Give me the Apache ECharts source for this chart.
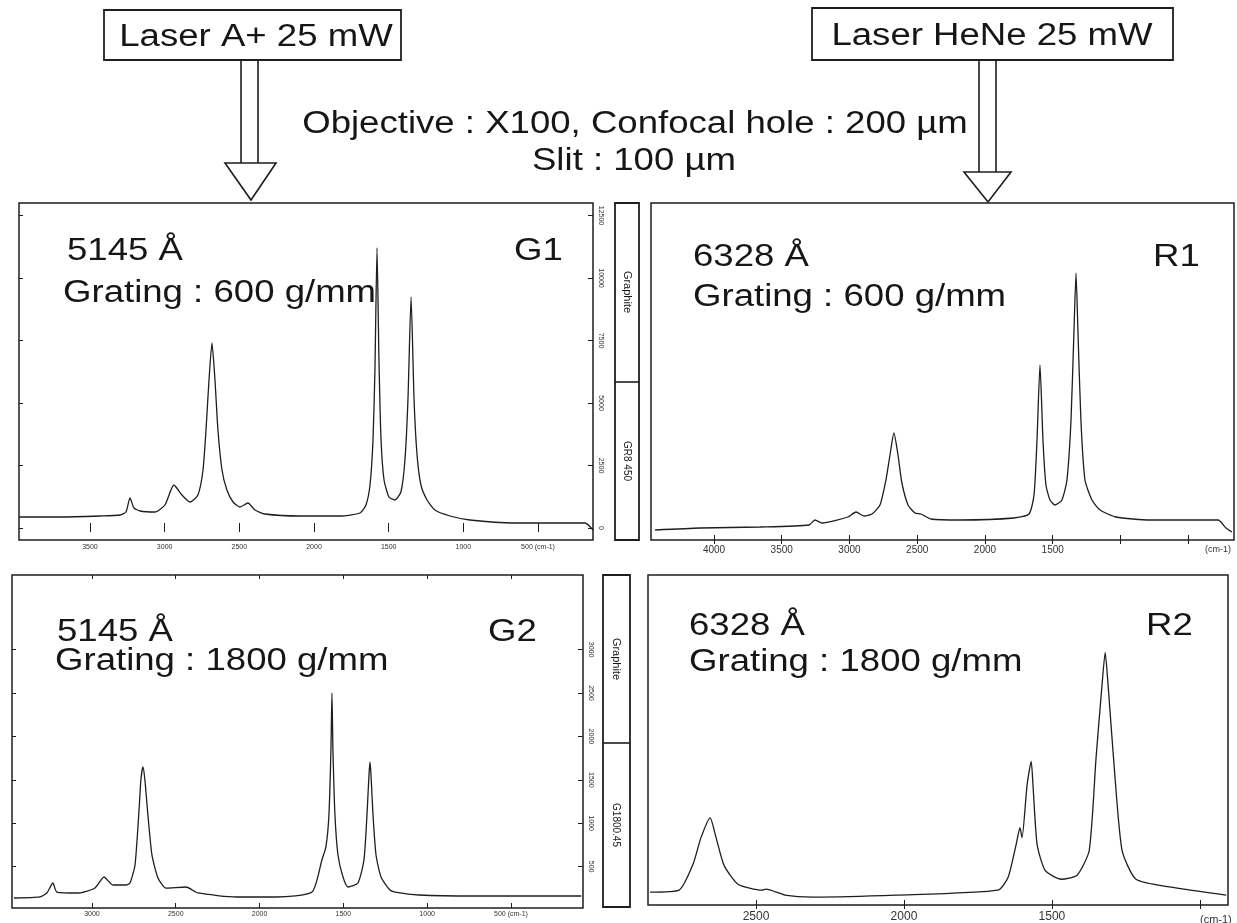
<!DOCTYPE html>
<html>
<head>
<meta charset="utf-8">
<title>Graphite Raman spectra</title>
<script src="https://cdn.jsdelivr.net/npm/echarts@6/dist/echarts.min.js"></script>
<style>
  html, body { margin: 0; padding: 0; background: #fff; }
  #chart { width: 1237px; height: 923px; }
</style>
</head>
<body>
<div id="chart"></div>
<script>
// spectra, [raman shift (cm-1), counts]
var specG1 = [[3975, 440], [3701, 440], [3433, 480], [3299, 520], [3259, 640], [3232, 1200], [3205, 800], [3165, 680],
  [3065, 640], [2998, 920], [2938, 1720], [2884, 1320], [2830, 1040], [2777, 1320], [2743, 2320], [2723, 3920],
  [2703, 5920], [2683, 7400], [2663, 5920], [2643, 3920], [2616, 2320], [2583, 1520], [2542, 1040], [2496, 840],
  [2442, 1000], [2395, 720], [2328, 560], [2094, 480], [1826, 480], [1692, 600], [1652, 920], [1625, 1720],
  [1605, 3520], [1592, 6320], [1578, 11200], [1565, 6720], [1551, 3520], [1531, 1920], [1498, 1240], [1458, 1120],
  [1418, 1440], [1391, 2720], [1371, 5120], [1350, 9240], [1330, 5120], [1310, 2920], [1284, 1720], [1243, 1120],
  [1190, 720], [1089, 480], [956, 320], [661, 200], [185, 200], [132, -80]];

var specR1 = [[4435, 400], [4103, 480], [3661, 520], [3299, 600], [3255, 800], [3203, 680], [3011, 920], [2952, 1120],
  [2893, 960], [2834, 1040], [2775, 1400], [2731, 2400], [2701, 3400], [2672, 4280], [2642, 3400], [2613, 2280],
  [2568, 1400], [2517, 1080], [2472, 1040], [2399, 840], [2185, 800], [1786, 880], [1675, 1040], [1638, 1800],
  [1616, 4000], [1594, 7000], [1572, 4000], [1550, 2200], [1520, 1600], [1483, 1400], [1432, 1600], [1395, 2400],
  [1365, 4800], [1343, 8400], [1328, 10680], [1314, 8400], [1292, 4800], [1262, 2400], [1210, 1600], [1151, 1200],
  [1033, 920], [782, 800], [280, 800], [221, 480], [177, 320]];

var specG2 = [[3465, 138], [3310, 150], [3269, 196], [3233, 311], [3209, 207], [3078, 196], [2982, 253], [2928, 380],
  [2875, 288], [2797, 288], [2773, 311], [2743, 518], [2719, 1152], [2708, 1498], [2696, 1647], [2684, 1498],
  [2666, 1094], [2642, 634], [2606, 369], [2558, 253], [2439, 265], [2367, 196], [2135, 150], [1896, 150],
  [1687, 207], [1628, 576], [1604, 726], [1586, 1094], [1574, 1843], [1568, 2500], [1562, 1843], [1550, 1094],
  [1532, 634], [1502, 380], [1472, 265], [1413, 311], [1377, 576], [1359, 1094], [1347, 1555], [1341, 1705],
  [1335, 1555], [1323, 1094], [1305, 634], [1275, 380], [1222, 230], [1192, 207], [1049, 173], [720, 161], [81, 161]];

var specR2 = [[2858, 130], [2760, 150], [2713, 410], [2686, 680], [2655, 880], [2635, 680], [2608, 400], [2561, 210],
  [2480, 150], [2466, 160], [2402, 100], [2307, 80], [2027, 100], [1682, 150], [1648, 280], [1621, 610],
  [1608, 780], [1601, 680], [1584, 1210], [1570, 1450], [1564, 1210], [1550, 610], [1523, 350], [1469, 260],
  [1415, 300], [1374, 550], [1351, 1480], [1331, 2210], [1320, 2550], [1310, 2210], [1290, 1410], [1263, 550],
  [1216, 260], [1097, 180], [911, 100]];

// tick labels
var ticksG1 = [3500, 3000, 2500, 2000, 1500, 1000, 500];
var ticksG2 = [3000, 2500, 2000, 1500, 1000, 500];
var ticksR1 = [4000, 3500, 3000, 2500, 2000, 1500, 1000, 500];
var labelsR1 = [4000, 3500, 3000, 2500, 2000, 1500];
var ticksR2 = [2500, 2000, 1500, 1000];
var labelsR2 = [2500, 2000, 1500];
var countsG1 = [0, 2500, 5000, 7500, 10000, 12500];
var countsG2 = [500, 1000, 1500, 2000, 2500, 3000];

var FONT = '"Liberation Sans", Arial, sans-serif';
var INK = '#1e1e1e';
var STRETCH = 1.18;   // the scan is a bit wider than it is tall

var panels = [
  { rect: [19, 203, 574, 337], x: [132, 3975], y: [-480, 13000], data: specG1, ticks: ticksG1, labels: ticksG1, fs: 7, margin: 4, counts: countsG1 },
  { rect: [651, 203, 583, 337], x: [162, 4465], y: [0, 13480], data: specR1, ticks: ticksR1, labels: labelsR1, fs: 10, margin: 5, counts: null },
  { rect: [12, 575, 571, 333], x: [70, 3477], y: [23, 3859], data: specG2, ticks: ticksG2, labels: ticksG2, fs: 7, margin: 3, counts: countsG2 },
  { rect: [648, 575, 580, 333], x: [905, 2865], y: [0, 3330], data: specR2, ticks: ticksR2, labels: labelsR2, fs: 12, margin: 6, counts: null }
];

var grids = [], xAxes = [], yAxes = [], series = [];
panels.forEach(function (p, i) {
  grids.push({
    left: p.rect[0], top: p.rect[1], width: p.rect[2], height: p.rect[3],
    show: true, borderColor: INK, borderWidth: 1.5
  });
  // bottom axis with labels
  xAxes.push({
    gridIndex: i, type: 'value', inverse: true, min: p.x[0], max: p.x[1], position: 'bottom',
    axisLine: { show: false },
    axisTick: { inside: true, length: 5, customValues: p.ticks, lineStyle: { color: INK } },
    axisLabel: {
      customValues: p.labels, fontSize: p.fs, color: '#333', margin: p.margin, fontFamily: FONT,
      formatter: function (v) { return (p.fs < 9 && v === 500) ? '500 (cm-1)' : String(v); }
    },
    splitLine: { show: false }
  });
  // top axis, ticks only
  xAxes.push({
    gridIndex: i, type: 'value', inverse: true, min: p.x[0], max: p.x[1], position: 'top',
    axisLine: { show: false },
    axisTick: { inside: true, length: 4, customValues: p.ticks, lineStyle: { color: INK } },
    axisLabel: { show: false }, splitLine: { show: false }
  });
  yAxes.push({
    gridIndex: i, type: 'value', min: p.y[0], max: p.y[1], position: 'right',
    axisLine: { show: false },
    axisTick: { show: !!p.counts, inside: true, length: 5, customValues: p.counts || [], lineStyle: { color: INK } },
    axisLabel: {
      show: !!p.counts, customValues: p.counts || [], rotate: -90, fontSize: 7, color: '#333', margin: 4, fontFamily: FONT,
      formatter: function (v) { return String(v); }
    },
    splitLine: { show: false }
  });
  yAxes.push({
    gridIndex: i, type: 'value', min: p.y[0], max: p.y[1], position: 'left',
    axisLine: { show: false },
    axisTick: { show: !!p.counts, inside: true, length: 4, customValues: p.counts || [], lineStyle: { color: INK } },
    axisLabel: { show: false }, splitLine: { show: false }
  });
  series.push({
    type: 'line', xAxisIndex: 2 * i, yAxisIndex: 2 * i, data: p.data,
    symbol: 'none', smooth: 0.2, clip: true,
    lineStyle: { color: INK, width: 1.3 }
  });
});

function txt(s, x, y, size, align, rot, stretch) {
  return {
    type: 'text', x: x, y: y, rotation: rot || 0, scaleX: stretch || 1, z: 10,
    style: { text: s, fontSize: size, fontFamily: FONT, fill: '#161616', textAlign: align, textVerticalAlign: 'middle' }
  };
}
function seg(x1, y1, x2, y2) {
  return { type: 'line', z: 5, shape: { x1: x1, y1: y1, x2: x2, y2: y2 }, style: { stroke: INK, lineWidth: 1.6 } };
}
function box(x, y, w, h) {
  return { type: 'rect', z: 4, shape: { x: x, y: y, width: w, height: h }, style: { fill: '#fff', stroke: INK, lineWidth: 1.8 } };
}
function tri(pts) {
  return { type: 'polygon', z: 6, shape: { points: pts }, style: { fill: '#fff', stroke: INK, lineWidth: 1.6 } };
}

var graphics = [
  // laser boxes and arrows
  box(104, 10, 297, 50), txt('Laser A+ 25 mW', 256, 37, 31, 'center', 0, STRETCH),
  seg(241, 60, 241, 164), seg(258, 60, 258, 164), tri([[225, 163], [276, 163], [251, 200]]),
  box(812, 8, 361, 52), txt('Laser HeNe 25 mW', 992, 36, 31, 'center', 0, STRETCH),
  seg(979, 60, 979, 173), seg(996, 60, 996, 173), tri([[964, 172], [1011, 172], [988, 202]]),
  txt('Objective : X100, Confocal hole : 200 µm', 635, 124, 31, 'center', 0, STRETCH),
  txt('Slit : 100 µm', 634, 161, 31, 'center', 0, STRETCH),
  // panel captions
  txt('5145 Å', 67, 251, 31, 'left', 0, STRETCH), txt('Grating : 600 g/mm', 63, 293, 31, 'left', 0, STRETCH), txt('G1', 514, 251, 31, 'left', 0, STRETCH),
  txt('6328 Å', 693, 257, 31, 'left', 0, STRETCH), txt('Grating : 600 g/mm', 693, 297, 31, 'left', 0, STRETCH), txt('R1', 1153, 257, 31, 'left', 0, STRETCH),
  txt('5145 Å', 57, 632, 31, 'left', 0, STRETCH), txt('Grating : 1800 g/mm', 55, 661, 31, 'left', 0, STRETCH), txt('G2', 488, 632, 31, 'left', 0, STRETCH),
  txt('6328 Å', 689, 626, 31, 'left', 0, STRETCH), txt('Grating : 1800 g/mm', 689, 662, 31, 'left', 0, STRETCH), txt('R2', 1146, 626, 31, 'left', 0, STRETCH),
  // sample tags between the panels
  box(615, 203, 24, 337), seg(615, 382, 639, 382),
  txt('Graphite', 627, 292, 11, 'center', -Math.PI / 2), txt('GR8 450', 627, 461, 10, 'center', -Math.PI / 2),
  box(603, 575, 27, 332), seg(603, 743, 630, 743),
  txt('Graphite', 616, 659, 11, 'center', -Math.PI / 2), txt('G1800.45', 616, 825, 10, 'center', -Math.PI / 2),
  // unit tags under the red-laser panels
  { type: 'text', x: 1205, y: 545, z: 10, style: { text: '(cm-1)', fontSize: 9, fontFamily: FONT, fill: '#333' } },
  { type: 'text', x: 1200, y: 914, z: 10, style: { text: '(cm-1)', fontSize: 11, fontFamily: FONT, fill: '#333' } }
];

var chart = echarts.init(document.getElementById('chart'));
chart.setOption({
  animation: false,
  backgroundColor: '#fff',
  grid: grids,
  xAxis: xAxes,
  yAxis: yAxes,
  series: series,
  graphic: graphics
});
</script>
</body>
</html>
